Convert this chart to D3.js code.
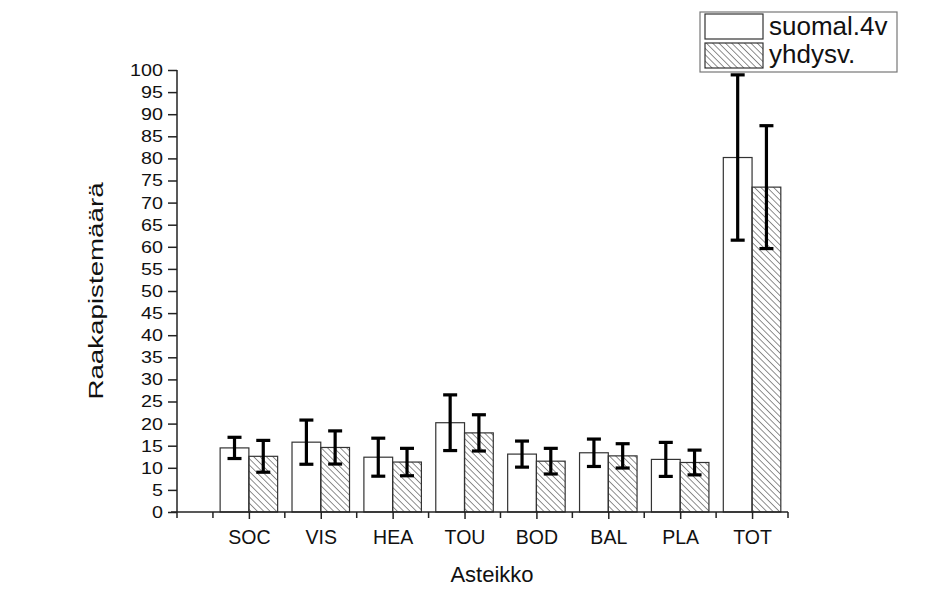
<!DOCTYPE html>
<html>
<head>
<meta charset="utf-8">
<script src="https://cdn.jsdelivr.net/npm/d3@7"></script>
<style>
  body { margin: 0; background: #fff; }
  svg { font-family: "Liberation Sans", Arial, sans-serif; }
</style>
</head>
<body>
<div id="chart"></div>
<script>
// data
const categories = ["SOC", "VIS", "HEA", "TOU", "BOD", "BAL", "PLA", "TOT"]
const seriesNames = ["suomal.4v", "yhdysv."]
const finMeans = [14.5, 15.8, 12.4, 20.2, 13.1, 13.4, 11.9, 80.2]
const finErr = [2.4, 5.0, 4.3, 6.3, 2.95, 3.1, 3.85, 18.7]
const usMeans = [12.6, 14.6, 11.3, 17.9, 11.5, 12.7, 11.2, 73.5]
const usErr = [3.6, 3.75, 3.1, 4.1, 2.9, 2.75, 2.8, 13.9]
const yTicks = d3.range(0, 101, 5)

const width = 941, height = 607
const svg = d3.select("#chart").append("svg")
    .attr("width", width)
    .attr("height", height)

// hatch pattern for the second series
const defs = svg.append("defs")
defs.append("pattern")
    .attr("id", "hatch")
    .attr("patternUnits", "userSpaceOnUse")
    .attr("width", 4.5)
    .attr("height", 4.5)
    .attr("patternTransform", "rotate(-45)")
  .append("line")
    .attr("x1", 0).attr("y1", 0)
    .attr("x2", 0).attr("y2", 4.5)
    .attr("stroke", "#444")
    .attr("stroke-width", 1.2)

// stretch text a bit sideways, like the picture
function stretch(sel, k) {
    sel.each(function() {
        const w = this.getComputedTextLength()
        d3.select(this).attr("textLength", w * k).attr("lengthAdjust", "spacingAndGlyphs")
    })
}

// scales: categories sit at 1..8 on a linear axis from 0 to 8.5
const x = d3.scaleLinear().domain([0, 8.5]).range([177, 788])
const y = d3.scaleLinear().domain([0, 100]).range([512, 70])
const barW = x(0.4) - x(0)

// bars
const rows = categories.map((c, i) => ({
    i: i + 1, fin: finMeans[i], finE: finErr[i], us: usMeans[i], usE: usErr[i]
}))

svg.append("g").selectAll("rect")
    .data(rows).join("rect")
    .attr("x", d => x(d.i) - barW)
    .attr("y", d => y(d.fin))
    .attr("width", barW)
    .attr("height", d => y(0) - y(d.fin))
    .attr("fill", "#fff")
    .attr("stroke", "#333")
    .attr("stroke-width", 1.2)

svg.append("g").selectAll("rect")
    .data(rows).join("rect")
    .attr("x", d => x(d.i))
    .attr("y", d => y(d.us))
    .attr("width", barW)
    .attr("height", d => y(0) - y(d.us))
    .attr("fill", "url(#hatch)")
    .attr("stroke", "#333")
    .attr("stroke-width", 1.2)

// error bars
function errBars(cx, mean, err) {
    const g = svg.append("g")
        .attr("stroke", "#000")
        .attr("stroke-width", 3.2)
        .attr("fill", "none")
    g.selectAll(".v").data(rows).join("line")
        .attr("x1", d => x(cx(d))).attr("x2", d => x(cx(d)))
        .attr("y1", d => y(mean(d) - err(d))).attr("y2", d => y(mean(d) + err(d)))
    g.selectAll(".t").data(rows).join("line")
        .attr("x1", d => x(cx(d)) - 7).attr("x2", d => x(cx(d)) + 7)
        .attr("y1", d => y(mean(d) + err(d))).attr("y2", d => y(mean(d) + err(d)))
    g.selectAll(".b").data(rows).join("line")
        .attr("x1", d => x(cx(d)) - 7).attr("x2", d => x(cx(d)) + 7)
        .attr("y1", d => y(mean(d) - err(d))).attr("y2", d => y(mean(d) - err(d)))
}
errBars(d => d.i - 0.2, d => d.fin, d => d.finE)
errBars(d => d.i + 0.2, d => d.us, d => d.usE)

// y axis
const yAxis = svg.append("g")
    .attr("transform", "translate(177,0)")
    .call(d3.axisLeft(y).tickValues(yTicks).tickSize(9).tickPadding(5).tickSizeOuter(0))
yAxis.select(".domain").attr("stroke", "#222").attr("stroke-width", 1.5)
    .attr("d", "M0," + (y(100)) + "V" + (y(0) + 6))
yAxis.selectAll(".tick line").attr("stroke", "#222").attr("stroke-width", 1.5)
yAxis.selectAll("text").attr("font-size", 17).attr("fill", "#111").call(stretch, 1.16)

// x axis with major ticks at categories and minor ticks between
const xAxis = svg.append("g")
    .attr("transform", "translate(0,512)")
    .call(d3.axisBottom(x).tickValues(d3.range(1, 9)).tickFormat(d => categories[d - 1])
        .tickSize(7).tickSizeOuter(0))
xAxis.select(".domain").attr("stroke", "#222").attr("stroke-width", 1.5)
    .attr("d", "M" + (x(0) - 6) + ",0H" + x(8.5))
xAxis.selectAll(".tick line").attr("stroke", "#222").attr("stroke-width", 1.5)
xAxis.selectAll("text").attr("font-size", 19.5).attr("fill", "#111")
    .attr("dy", null).attr("y", 32)

svg.append("g").selectAll("line")
    .data(d3.range(0.5, 9, 1)).join("line")
    .attr("x1", d => x(d)).attr("x2", d => x(d))
    .attr("y1", 512).attr("y2", 518)
    .attr("stroke", "#222").attr("stroke-width", 1.5)

// axis titles
svg.append("text")
    .attr("x", 492).attr("y", 582)
    .attr("text-anchor", "middle")
    .attr("font-size", 22).attr("fill", "#111")
    .text("Asteikko")

svg.append("text")
    .attr("transform", "translate(103,291) rotate(-90)")
    .attr("text-anchor", "middle")
    .attr("font-size", 20).attr("fill", "#111")
    .text("Raakapistemäärä")
    .call(stretch, 1.385)

// legend
const legend = svg.append("g").attr("transform", "translate(700,12)")
legend.append("rect")
    .attr("width", 197).attr("height", 60)
    .attr("fill", "#fff").attr("stroke", "#777").attr("stroke-width", 1.2)
const fills = ["#fff", "url(#hatch)"]
seriesNames.forEach((name, i) => {
    legend.append("rect")
        .attr("x", 5).attr("y", 2 + i * 29)
        .attr("width", 58).attr("height", 25)
        .attr("fill", fills[i]).attr("stroke", "#333").attr("stroke-width", 1.2)
    legend.append("text")
        .attr("x", 69).attr("y", 23 + i * 28)
        .attr("font-size", 26).attr("fill", "#111")
        .text(name)
})
</script>
</body>
</html>
